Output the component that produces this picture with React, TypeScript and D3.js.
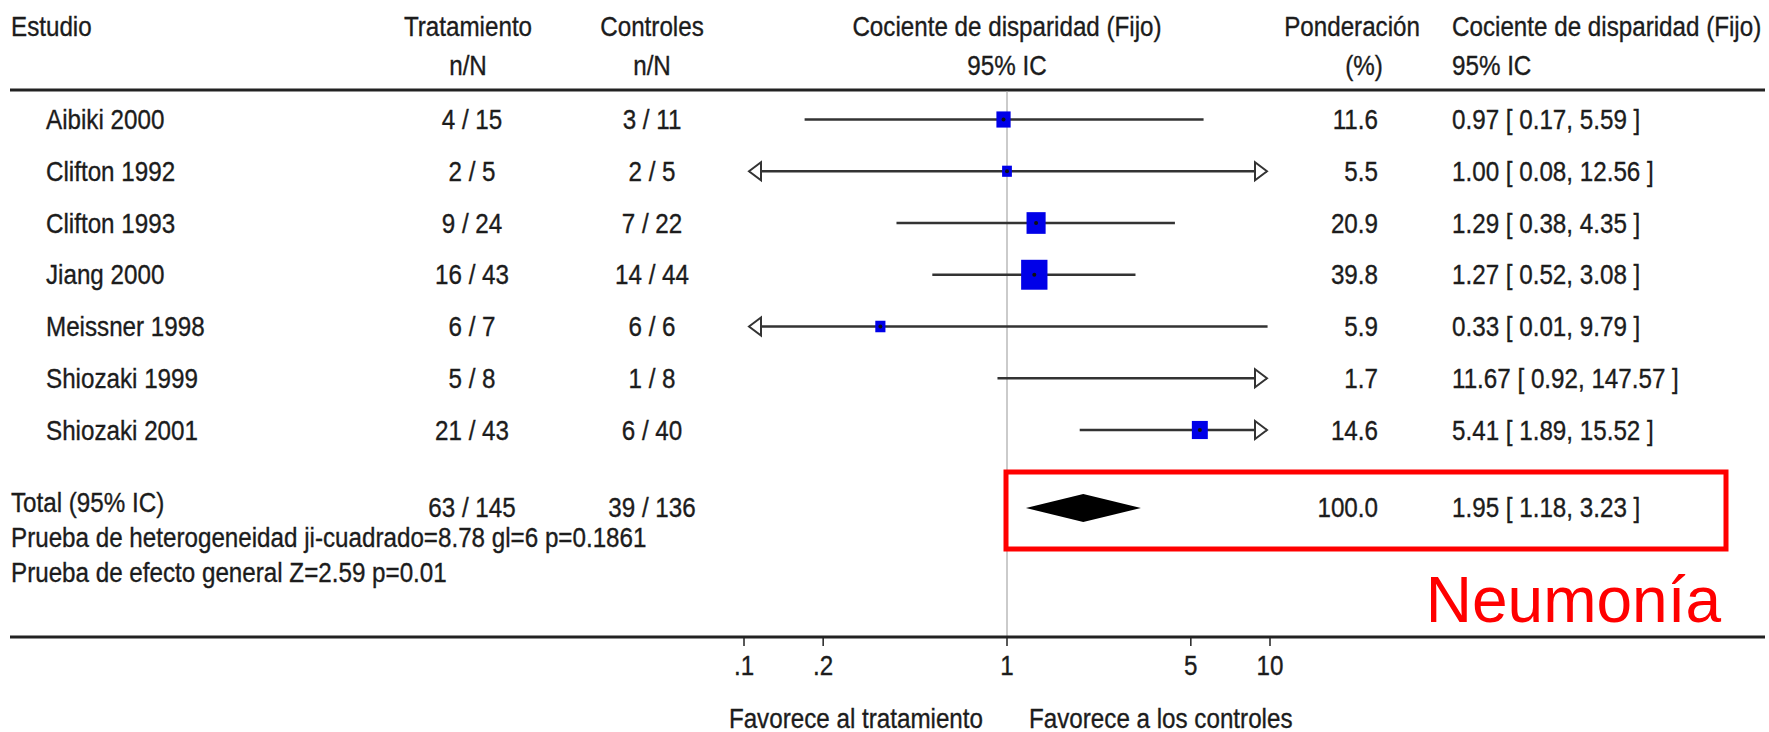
import React from "react";
import * as d3 from "d3";

const studies = ["Aibiki 2000", "Clifton 1992", "Clifton 1993", "Jiang 2000", "Meissner 1998", "Shiozaki 1999", "Shiozaki 2001"];
const treatEvents = [4, 2, 9, 16, 6, 5, 21];
const treatTotal = [15, 5, 24, 43, 7, 8, 43];
const ctrlEvents = [3, 2, 7, 14, 6, 1, 6];
const ctrlTotal = [11, 5, 22, 44, 6, 8, 40];
const oddsRatio = [0.97, 1.0, 1.29, 1.27, 0.33, 11.67, 5.41];
const ciLow = [0.17, 0.08, 0.38, 0.52, 0.01, 0.92, 1.89];
const ciHigh = [5.59, 12.56, 4.35, 3.08, 9.79, 147.57, 15.52];
const weights = [11.6, 5.5, 20.9, 39.8, 5.9, 1.7, 14.6];

const totalTreat = "63 / 145";
const totalCtrl = "39 / 136";
const totalOR = 1.95;
const totalLow = 1.18;
const totalHigh = 3.23;
const totalWeight = 100.0;

const axisTicks = [0.1, 0.2, 1, 5, 10];
const axisTickLabels = [".1", ".2", "1", "5", "10"];

const heterogeneityText = "Prueba de heterogeneidad ji-cuadrado=8.78 gl=6 p=0.1861";
const overallText = "Prueba de efecto general Z=2.59 p=0.01";

const FONT = "'Liberation Sans', Arial, sans-serif";
const FS = 27.5;
const SX = 0.88;
const INK = "#1c1c1c";

function T({ x, y, anchor = "start", children }: { x: number; y: number; anchor?: string; children: React.ReactNode }) {
  return (
    <text
      transform={`translate(${x},${y}) scale(${SX},1)`}
      textAnchor={anchor as any}
      fontFamily={FONT}
      fontSize={FS}
      fill={INK}
      stroke={INK}
      strokeWidth={0.35}
    >
      {children}
    </text>
  );
}

const fmt2 = (v: number) => v.toFixed(2);

export default function App() {
  const W = 1769;
  const H = 732;
  const x = d3.scaleLog().domain([0.1, 10]).range([744, 1270]);
  const y = d3.scaleLinear().domain([0, 6]).range([119.5, 430]);
  const size = d3.scaleSqrt().domain([0, 40]).range([0, 30]);
  const [xMin, xMax] = x.range();
  const totalY = 508;
  const axisY = 637;
  const arrowLen = 12;
  const arrowHalf = 9;

  const leftArrow = (yy: number) => {
    const tip = xMin + 5;
    return `M${tip},${yy} L${tip + arrowLen},${yy - arrowHalf} L${tip + arrowLen},${yy + arrowHalf} Z`;
  };
  const rightArrow = (yy: number) => {
    const tip = xMax - 3;
    return `M${tip},${yy} L${tip - arrowLen},${yy - arrowHalf} L${tip - arrowLen},${yy + arrowHalf} Z`;
  };

  const diamond = d3.line()([
    [x(totalLow), totalY],
    [x(totalOR), totalY - 14],
    [x(totalHigh), totalY],
    [x(totalOR), totalY + 14],
  ]) + "Z";

  return (
    <svg width={W} height={H} style={{ position: "absolute", left: 0, top: 0, background: "#fff" }}>
      <rect x={0} y={0} width={W} height={H} fill="#fff" />
      {/* Header */}
      <T x={11} y={36}>Estudio</T>
      <T x={468} y={36} anchor="middle">Tratamiento</T>
      <T x={468} y={75} anchor="middle">n/N</T>
      <T x={652} y={36} anchor="middle">Controles</T>
      <T x={652} y={75} anchor="middle">n/N</T>
      <T x={x(1)} y={36} anchor="middle">Cociente de disparidad (Fijo)</T>
      <T x={x(1)} y={75} anchor="middle">95% IC</T>
      <T x={1420} y={36} anchor="end">Ponderación</T>
      <T x={1364} y={75} anchor="middle">(%)</T>
      <T x={1452} y={36}>Cociente de disparidad (Fijo)</T>
      <T x={1452} y={75}>95% IC</T>

      <line x1={10} x2={1765} y1={90} y2={90} stroke="#222" strokeWidth={3} />

      {/* reference line at 1 */}
      <line x1={x(1)} x2={x(1)} y1={91} y2={axisY} stroke="#a8a8a8" strokeWidth={1.2} />

      {/* Study rows */}
      {studies.map((s, i) => {
        const yy = y(i);
        const base = yy + 9.5;
        const lo = Math.max(ciLow[i], 0.1);
        const hi = Math.min(ciHigh[i], 10);
        const x1 = ciLow[i] < 0.1 ? xMin + 5 : x(lo);
        const x2 = ciHigh[i] > 10 ? xMax - 3 : x(hi);
        const sz = size(weights[i]);
        const inRange = oddsRatio[i] >= 0.1 && oddsRatio[i] <= 10;
        return (
          <g key={s}>
            <T x={46} y={base}>{s}</T>
            <T x={472} y={base} anchor="middle">{`${treatEvents[i]} / ${treatTotal[i]}`}</T>
            <T x={652} y={base} anchor="middle">{`${ctrlEvents[i]} / ${ctrlTotal[i]}`}</T>
            <line x1={x1} x2={x2} y1={yy} y2={yy} stroke="#333" strokeWidth={2.5} />
            {ciLow[i] < 0.1 && <path d={leftArrow(yy)} fill="#fff" stroke="#333" strokeWidth={2} />}
            {ciHigh[i] > 10 && <path d={rightArrow(yy)} fill="#fff" stroke="#333" strokeWidth={2} />}
            {inRange && (
              <rect
                x={x(oddsRatio[i]) - (sz * 0.88) / 2}
                y={yy - sz / 2}
                width={sz * 0.88}
                height={sz}
                fill="#0000e8"
              />
            )}
            {inRange && <circle cx={x(oddsRatio[i])} cy={yy} r={2} fill="#111" />}
            <T x={1378} y={base} anchor="end">{weights[i].toFixed(1)}</T>
            <T x={1452} y={base}>{`${fmt2(oddsRatio[i])} [ ${fmt2(ciLow[i])}, ${fmt2(ciHigh[i])} ]`}</T>
          </g>
        );
      })}

      {/* Total */}
      <T x={11} y={512}>Total (95% IC)</T>
      <T x={472} y={517} anchor="middle">{totalTreat}</T>
      <T x={652} y={517} anchor="middle">{totalCtrl}</T>
      <path d={diamond} fill="#000" />
      <T x={1378} y={517} anchor="end">{totalWeight.toFixed(1)}</T>
      <T x={1452} y={517}>{`${fmt2(totalOR)} [ ${fmt2(totalLow)}, ${fmt2(totalHigh)} ]`}</T>
      <T x={11} y={547}>{heterogeneityText}</T>
      <T x={11} y={582}>{overallText}</T>

      {/* Red highlight */}
      <rect x={1006} y={472} width={720} height={77} fill="none" stroke="#ff0000" strokeWidth={5} />
      <text x={1721} y={622} textAnchor="end" fontFamily={FONT} fontSize={64} fill="#ff0000">Neumonía</text>

      {/* Axis */}
      <line x1={10} x2={1765} y1={axisY} y2={axisY} stroke="#222" strokeWidth={3} />
      {axisTicks.map((t, i) => (
        <g key={t}>
          <line x1={x(t)} x2={x(t)} y1={axisY} y2={axisY + 9} stroke="#222" strokeWidth={1.5} />
          <T x={x(t)} y={675} anchor="middle">{axisTickLabels[i]}</T>
        </g>
      ))}
      <T x={x(1) - 24} y={728} anchor="end">Favorece al tratamiento</T>
      <T x={x(1) + 22} y={728}>Favorece a los controles</T>
    </svg>
  );
}
